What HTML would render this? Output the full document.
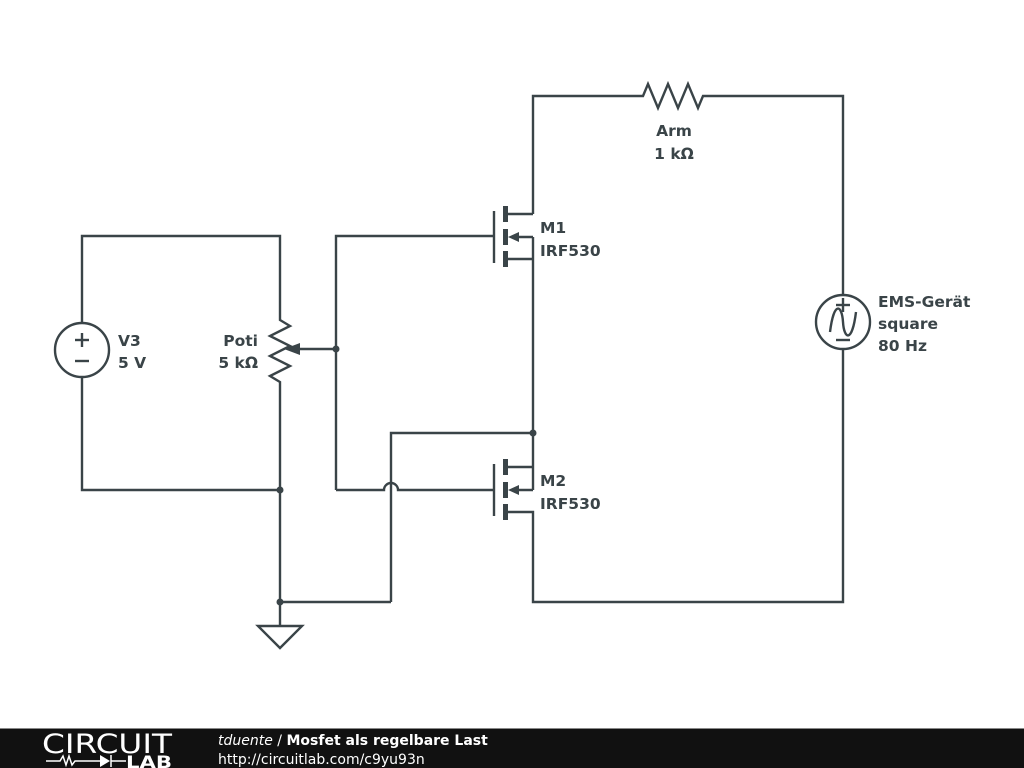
<!DOCTYPE html>
<html><head><meta charset="utf-8"><style>
body{margin:0;background:#fff;width:1024px;height:768px;overflow:hidden;font-family:"DejaVu Sans","Liberation Sans",sans-serif}
svg{position:absolute;left:0;top:0}
text{font-family:"DejaVu Sans","Liberation Sans",sans-serif;font-weight:bold;font-size:15.5px;fill:#3a4448}
</style></head><body>
<svg width="1024" height="768" viewBox="0 0 1024 768">
<g stroke="#3a4448" stroke-width="2.4" fill="none">
<polyline points="533,214 533,96 643,96 648,84 658,108 668,84 678,108 688,84 698,108 703,96 843,96 843,295"/>
<polyline points="843,349 843,602 533,602 533,512 505,512"/>
<circle cx="843" cy="322" r="27"/>
<path d="M830,332 C834,300 842,305 843,322 C844,339 852,344 856,312"/>
<line x1="843" y1="298" x2="843" y2="312"/><line x1="836" y1="305" x2="850" y2="305"/>
<line x1="836" y1="340" x2="850" y2="340"/>
<line x1="505" y1="214" x2="533" y2="214"/>
<line x1="505" y1="259" x2="533" y2="259"/>
<line x1="512" y1="237" x2="533" y2="237"/>
<line x1="533" y1="237" x2="533" y2="433"/>
<line x1="494" y1="211" x2="494" y2="263"/>
<polyline points="336,490 336,236 494,236"/>
<line x1="505" y1="467" x2="533" y2="467"/>
<line x1="512" y1="490" x2="533" y2="490"/>
<line x1="533" y1="467" x2="533" y2="490"/>
<line x1="494" y1="464" x2="494" y2="516"/>
<path d="M336,490 L384,490 A7,7 0 0 1 398,490 L494,490"/>
<polyline points="391,602 391,433 533,433 533,467"/>
<polyline points="82,323 82,236 280,236 280,320 290,326 270,336 290,346 270,356 290,366 270,376 280,382 280,602 391,602"/>
<polyline points="82,377 82,490 280,490"/>
<circle cx="82" cy="350" r="27"/>
<line x1="82" y1="333" x2="82" y2="347"/><line x1="75" y1="340" x2="89" y2="340"/>
<line x1="75" y1="361" x2="89" y2="361"/>
<line x1="298" y1="349" x2="336" y2="349"/>
<polygon points="258,626 302,626 280,648"/>
<line x1="280" y1="602" x2="280" y2="626"/>
</g>
<g fill="#3a4448">
<rect x="503" y="206" width="5" height="16"/><rect x="503" y="229" width="5" height="16"/><rect x="503" y="251" width="5" height="16"/>
<rect x="503" y="459" width="5" height="16"/><rect x="503" y="482" width="5" height="16"/><rect x="503" y="504" width="5" height="16"/>
<polygon points="508,237 519,232 519,242"/>
<polygon points="508,490 519,485 519,495"/>
<polygon points="284,349 300,343 300,355"/>
<circle cx="336" cy="349" r="3.5"/><circle cx="280" cy="490" r="3.5"/><circle cx="280" cy="602" r="3.5"/><circle cx="533" cy="433" r="3.5"/>
</g>
<text x="674" y="136" text-anchor="middle">Arm</text>
<text x="674" y="159" text-anchor="middle">1 kΩ</text>
<text x="540" y="233">M1</text><text x="540" y="256">IRF530</text>
<text x="540" y="486">M2</text><text x="540" y="509">IRF530</text>
<text x="258" y="346" text-anchor="end">Poti</text><text x="258" y="368" text-anchor="end">5 kΩ</text>
<text x="118" y="346">V3</text><text x="118" y="368">5 V</text>
<text x="878" y="307">EMS-Gerät</text><text x="878" y="329">square</text><text x="878" y="351">80 Hz</text>
<rect x="0" y="729" width="1024" height="39" fill="#111"/>
<rect x="0" y="728" width="1024" height="1" fill="#888"/>
<text x="42" y="753" textLength="130" lengthAdjust="spacingAndGlyphs" style="font-weight:normal;font-size:27px;fill:#fff">CIRCUIT</text>
<g stroke="#fff" stroke-width="1.5" fill="none"><polyline points="46,761 60,761 63,756 66,765 69,756 72,765 75,761 100,761"/><line x1="111" y1="755" x2="111" y2="767"/><line x1="111" y1="761" x2="126" y2="761"/></g>
<polygon points="100,755 100,767 110,761" fill="#fff"/>
<text x="126" y="768" textLength="46" lengthAdjust="spacingAndGlyphs" style="font-size:17px;fill:#fff">LAB</text>
<text x="218" y="745" style="font-size:14px;fill:#fff"><tspan style="font-style:italic;font-weight:normal">tduente</tspan><tspan style="font-weight:normal"> / </tspan>Mosfet als regelbare Last</text>
<text x="218" y="764" style="font-size:14px;font-weight:normal;fill:#fff">http://circuitlab.com/c9yu93n</text>
</svg>
</body></html>
